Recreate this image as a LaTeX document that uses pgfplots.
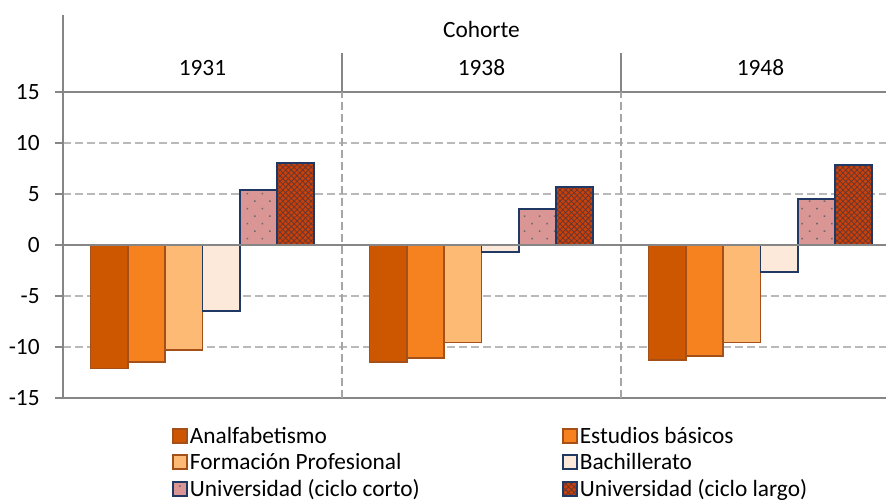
\documentclass[border=0pt]{standalone}
\usepackage{fontspec}
\setmainfont{Carlito}
\usepackage{pgfplots}
\pgfplotsset{compat=1.18}
\usetikzlibrary{patterns.meta}
\definecolor{cA}{RGB}{205,87,0}
\definecolor{cB}{RGB}{245,130,31}
\definecolor{cC}{RGB}{253,186,116}
\definecolor{cD}{RGB}{253,233,217}
\definecolor{cE}{RGB}{217,150,148}
\definecolor{cF}{RGB}{200,64,10}
\definecolor{edgeO}{RGB}{165,80,25}
\definecolor{edgeB}{RGB}{31,56,100}
\definecolor{hatchc}{RGB}{100,55,50}
\definecolor{dotc}{RGB}{105,105,105}
\definecolor{axgray}{RGB}{134,134,134}
\definecolor{gridgray}{RGB}{185,185,185}
\definecolor{divgray}{RGB}{165,165,165}
\begin{document}
\begin{tikzpicture}[font=\fontsize{17.5}{21}\selectfont]
\begin{axis}[
  scale only axis, width=617.25pt, height=229.5pt,
  xmin=0, xmax=2.95, ymin=-15, ymax=15,
  clip=false,
  axis x line=none,
  axis y line*=left,
  y axis line style={draw=axgray, line width=1.8pt, -},
  ytick={-10,-5,5,10}, yticklabels={-10,-5,5,10},
  extra y ticks={-15,0,15}, extra y tick labels={-15,0,15},
  tick align=outside, major tick length=6pt,
  ytick style={draw=axgray, line width=1.5pt},
  ymajorgrids,
  major grid style={gridgray, line width=1.2pt, dash pattern=on 6pt off 3pt},
  extra y tick style={grid=none, tick style={draw=axgray, line width=1.5pt}},
  yticklabel style={font=\fontsize{17.5}{21}\selectfont, text=black, xshift=-8pt},
  ybar, bar width=27.97pt,
  legend image code/.code={\draw[#1] (0pt,-5.25pt) rectangle (10.5pt,5.25pt);},
  legend columns=2,
  legend cell align=left,
  legend style={draw=none, fill=none, inner sep=0pt, outer sep=0pt,
    anchor=north west, at={(0.1324,-0.088)},
    font=\fontsize{17.5}{21}\selectfont,
    nodes={inner sep=1.5pt},
    row sep=3pt,
    /tikz/every even column/.append style={column sep=105pt}},
]
\addplot[bar shift=0pt, fill=cA, draw=edgeO, line width=1.3pt]
  coordinates {(0.1657,-12.1) (1.1657,-11.5) (2.1657,-11.25)};
\addlegendentry{Analfabetismo}
\addplot[bar shift=0pt, fill=cB, draw=edgeO, line width=1.3pt]
  coordinates {(0.2994,-11.45) (1.2994,-11.1) (2.2994,-10.9)};
\addlegendentry{Estudios básicos}
\addplot[bar shift=0pt, fill=cC, draw=edgeO, line width=1.3pt]
  coordinates {(0.4331,-10.3) (1.4331,-9.55) (2.4331,-9.55)};
\addlegendentry{Formación Profesional}
\addplot[bar shift=0pt, fill=cD, draw=edgeB, line width=1.3pt]
  coordinates {(0.5669,-6.45) (1.5669,-0.7) (2.5669,-2.65)};
\addlegendentry{Bachillerato}
\addplot[bar shift=0pt, fill=cE, draw=edgeB, line width=1.5pt,
  postaction={pattern={Dots[angle=45,distance=7.95pt,radius=0.8pt]}, pattern color=dotc}]
  coordinates {(0.7006,5.35) (1.7006,3.55) (2.7006,4.55)};
\addlegendentry{Universidad (ciclo corto)}
\addplot[bar shift=0pt, fill=cF, draw=edgeB, line width=1.5pt,
  postaction={pattern={Hatch[angle=45,distance=3pt,line width=0.55pt]}, pattern color=hatchc}]
  coordinates {(0.8343,8.07) (1.8343,5.7) (2.8343,7.85)};
\addlegendentry{Universidad (ciclo largo)}
% frame / header
\draw[axgray, line width=1.6pt] (axis cs:0,0) -- (axis cs:2.95,0);
\draw[axgray, line width=1.5pt] (axis cs:0,15) -- (axis cs:2.95,15);
\draw[axgray, line width=1.5pt] (axis cs:0,-15) -- (axis cs:2.95,-15);
\draw[axgray, line width=1.8pt] (axis cs:0,15) -- (axis cs:0,22.55);
\draw[divgray, line width=1.3pt, dash pattern=on 6pt off 3pt] (axis cs:1,-15) -- (axis cs:1,15);
\draw[divgray, line width=1.3pt, dash pattern=on 6pt off 3pt] (axis cs:2,-15) -- (axis cs:2,15);
\draw[axgray, line width=1.3pt] (axis cs:1,15) -- (axis cs:1,18.8);
\draw[axgray, line width=1.3pt] (axis cs:2,15) -- (axis cs:2,18.8);
\node[anchor=base] at (axis cs:1.5,20.34) {Cohorte};
\node[anchor=base] at (axis cs:0.5,16.57) {1931};
\node[anchor=base] at (axis cs:1.5,16.57) {1938};
\node[anchor=base] at (axis cs:2.5,16.57) {1948};
\coordinate (bbl) at (axis cs:-0.2258,-25.1);
\coordinate (btr) at (axis cs:2.95,24.02);
\end{axis}
\pgfresetboundingbox
\path (bbl) rectangle (btr);
\end{tikzpicture}
\end{document}
